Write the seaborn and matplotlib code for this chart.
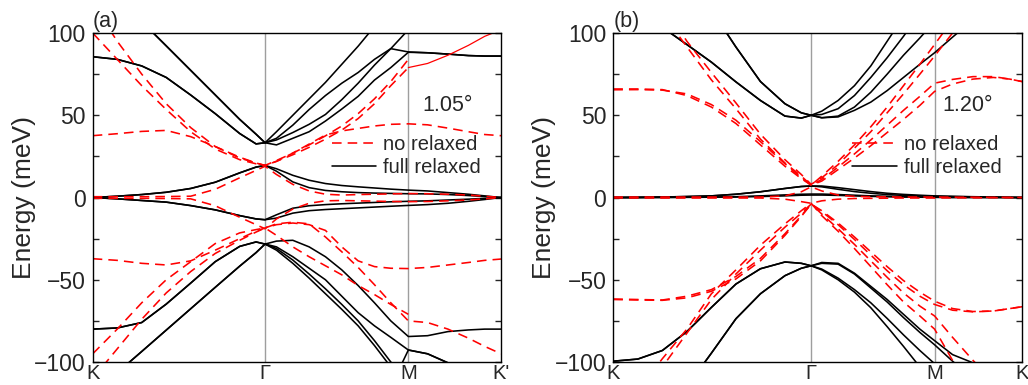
import numpy as np
import pandas as pd
import seaborn as sns
import matplotlib.pyplot as plt
from matplotlib.lines import Line2D
from matplotlib.ticker import MultipleLocator

nan = np.nan

# positions along the K-Gamma-M-K' path (fraction of path length)
k_a = [0, 0.06, 0.12, 0.18, 0.24, 0.30, 0.36, 0.40, 0.422,
       0.45, 0.49, 0.53, 0.57, 0.61, 0.65, 0.69, 0.73, 0.773,
       0.82, 0.87, 0.92, 0.96, 1.0]
k_b = [0, 0.06, 0.12, 0.18, 0.24, 0.30, 0.36, 0.42, 0.46, 0.484,
       0.51, 0.55, 0.59, 0.63, 0.67, 0.71, 0.75, 0.786,
       0.83, 0.88, 0.93, 0.97, 1.0]
ticks_a = [0, 0.422, 0.773, 1.0]
ticks_b = [0, 0.484, 0.786, 1.0]
tick_labels_a = ['K', 'Γ', 'M', "K'"]
tick_labels_b = ['K', 'Γ', 'M', 'K']

# (a) 1.05 deg, full relaxed (meV)
a_full_1 = [85.6, 84, 80, 73, 62.3, 51, 38.9, 32.6, 33.3, 32, 36, 40, 46.5, 53.8, 61.5, 71.4, 79, 88.3, 88, 87.2, 86.3, 86, 86]
a_full_2 = [85.6, 84, 80, 73, 62.3, 51, 38.9, 32.6, 33.3, 36, 44, 53.5, 62, 69.5, 76, 84, 90.5, 88.5, 88, 87.2, 86.3, 86, 86]
a_full_3 = [137, 122, 107, 92.2, 77.3, 62.4, 47.5, 38.5, 33.3, 35, 39.5, 44.5, 50.5, 59.5, 69.5, 80.5, 90.5, 102, 112, 118, 122, 124, 125]
a_full_4 = [137, 122, 107, 92.2, 77.3, 62.4, 47.5, 38.5, 33.3, 40, 50, 60, 70, 81, 92, 104, 116, 128, 135, 138, 140, 140, 140]
a_full_5 = [0, 0.8, 1.8, 3.2, 5.5, 9.3, 15, 18.5, 19.5, 17.5, 13.5, 10.5, 8.5, 7.3, 6.5, 5.8, 5.1, 4.5, 4, 3, 2, 1, 0]
a_full_6 = [0, 0.8, 1.8, 3.2, 5.5, 9.3, 15, 18.5, 19.5, 16, 9.5, 6, 4.3, 3.5, 3, 2.7, 2.5, 2.3, 2.2, 1.8, 1.2, 0.6, 0]
a_full_7 = [0, -0.8, -1.8, -2.8, -4.9, -7.5, -11, -13, -13.5, -10.5, -6.5, -5, -4.3, -3.8, -3.4, -3, -2.6, -2.3, -2, -1.5, -1, -0.5, 0]
a_full_8 = [0, -0.8, -1.8, -2.8, -4.9, -7.5, -11, -13, -13.5, -12.5, -9.5, -8, -7.3, -6.8, -6.3, -5.8, -5.3, -4.8, -4.3, -3.5, -2.3, -1.2, 0]
a_full_9 = [-80, -79.3, -76, -64.8, -52, -39, -29.7, -27, -28.3, -26.5, -26, -30, -36, -44, -53.5, -64, -75, -84.5, -84, -81.5, -80.5, -80, -80]
a_full_10 = [-80, -79.3, -76, -64.8, -52, -39, -29.7, -27, -28.3, -30, -36, -43, -50, -60, -70, -78, -85, -92.7, -95, -100.5, -106, -110, -113]
a_full_11 = [-120, -106.5, -93.6, -80.6, -67.6, -54.6, -41.7, -33.5, -28.3, -31, -38, -46.5, -55.5, -65, -75, -87, -100, -110, -115, -118, -120, -120, -120]
a_full_12 = [-120, -106.5, -93.6, -80.6, -67.6, -54.6, -41.7, -33.5, -28.3, -32, -40, -49, -58.5, -68, -78, -90, -103, -113, -118, -121, -123, -124, -125]
a_full_13 = [-140, -140, -140, -140, -140, -140, -140, -140, -140, -140, -140, -140, -140, -140, -140, -135, -115, -92.7, -95, -100.5, -106, -110, -113]

# (a) 1.05 deg, no relaxed (meV)
a_no_1 = [100, 84, 68, 53.5, 40, 29.5, 23, 20.5, 19.5, 22.5, 27, 32, 37.5, 43.5, 51, 60, 70.5, 84, nan, nan, nan, nan, nan]
a_no_2 = [118, 95, 75, 57, 42.5, 31, 24.5, 21, 19.5, 22, 26, 30.5, 35.5, 41, 48, 57, 68, 79, nan, nan, nan, nan, nan]
a_no_3 = [37.6, 38.8, 40.2, 40.8, 37, 31, 24, 21, 19.5, 22, 27, 32.5, 38, 40.5, 42, 43.5, 44.5, 44.8, 44.2, 42.2, 40, 38.3, 37.6]
a_no_4 = [0.5, 0.5, 0.5, 0.6, 0.8, 5, 12, 16.5, 19, 14, 8, 4, 2, 1.5, 1.8, 2, 2.2, 2.4, 2.3, 2, 1.5, 0.8, 0]
a_no_5 = [-95, -80, -64, -50, -39, -28, -21.5, -19.5, -18.5, -16, -15, -16, -24, -33, -42.5, -53, -64, -75, -76, -80, -85.5, -90.5, -95]
a_no_6 = [-110, -92, -74, -58, -45, -34, -26, -21, -18.5, -23, -30, -36, -41.5, -47, -53.5, -59, -65, -71, nan, nan, nan, nan, nan]
a_no_7 = [-37.2, -38.2, -40, -41, -38.5, -32, -25, -20.5, -18.5, -16.5, -15.5, -16.5, -20, -30, -38.5, -42, -43, -43.2, -42.5, -41, -39.5, -38.2, -37.4]
a_no_8 = [-0.5, -0.5, -0.5, -0.6, -0.8, -5, -12, -16.5, -19, -13, -7, -3.5, -2, -1.8, -2, -2.2, -2.4, -2.5, -2.4, -2, -1.5, -0.8, 0]
a_no_solid_k = [0.773, 0.82, 0.87, 0.92, 0.96, 1.0]
a_no_solid = [79, 81.5, 86.5, 92.5, 98, 102]

# (b) 1.20 deg, full relaxed (meV)
b_full_1 = [124, 114, 103.5, 93, 82.3, 70.3, 59, 49.5, 48.3, 50, 48.5, 49, 53, 58, 65, 73, 81, 88, 97.5, 108, 118, 125, 130]
b_full_2 = [124, 114, 103.5, 93, 82.3, 70.3, 59, 49.5, 48.3, 50, 48.5, 49.5, 55, 64, 75, 86.5, 97, 107, 118, 128, 132, 134, 135]
b_full_3 = [204, 181, 159, 136.6, 114, 91.5, 70.5, 57, 51.5, 50, 50.5, 54, 62, 73, 85, 98, 112, 122, 130, 135, 135, 135, 135]
b_full_4 = [204, 181, 159, 136.6, 114, 91.5, 70.5, 57, 51.5, 50, 52.5, 59, 68, 80, 95, 110, 125, 135, 140, 140, 140, 140, 140]
b_full_5 = [0, 0.1, 0.3, 0.6, 1, 2, 3.5, 5.5, 6.7, 7, 7, 6, 4.8, 3.6, 2.6, 1.9, 1.4, 1, 0.7, 0.5, 0.3, 0.1, 0]
b_full_6 = [0, 0.1, 0.3, 0.6, 1, 2, 3.5, 5.5, 6.7, 7, 6.5, 5, 3.6, 2.6, 1.8, 1.3, 1, 0.8, 0.6, 0.4, 0.2, 0.1, 0]
b_full_7 = [0, 0, 0.1, 0.2, 0.3, 0.5, 1, 1.6, 2, 2.1, 2.1, 1.8, 1.4, 1, 0.7, 0.5, 0.3, 0.2, 0.1, 0.1, 0, 0, 0]
b_full_8 = [0, 0, 0, 0.1, 0.2, 0.3, 0.6, 1, 1.4, 1.5, 1.5, 1.3, 1, 0.7, 0.5, 0.3, 0.2, 0.1, 0, 0, 0, 0, 0]
b_full_9 = [-99.5, -98.2, -93, -81.5, -66.8, -52.6, -43.3, -39.2, -40, -41.5, -39.5, -40, -46, -54, -62, -71, -80, -87, -95.5, -100.5, -106, -110, -112]
b_full_10 = [-99.5, -98.2, -93, -81.5, -66.8, -52.6, -43.3, -39.2, -40, -41.5, -40, -40.5, -46.5, -55, -63.5, -73, -82, -89.5, -99.5, -110, -118, -122, -125]
b_full_11 = [-178, -157, -136, -115, -94.6, -73.7, -58.5, -47.5, -43, -41.5, -44, -50, -57.5, -67, -78.5, -90.5, -103, -115, -125, -130, -135, -138, -140]
b_full_12 = [-178, -157, -136, -115, -94.6, -73.7, -58.5, -47.5, -43, -41.5, -43.5, -49, -56, -64, -73.5, -83.5, -93, -101, -112, -120, -126, -130, -132]

# (b) 1.20 deg, no relaxed (meV)
b_no_1 = [152, 132, 112, 91.6, 71.5, 54, 35.5, 21, 13, 7.5, 13, 22, 32, 43, 55, 68, 81, 93, 108, 120, 130, 135, 140]
b_no_2 = [160, 140, 118, 95, 76, 57.5, 38.5, 23, 14, 8, 12, 20, 30, 40, 51.5, 63, 75, 86, 100, 112, 122, 128, 132]
b_no_3 = [65.5, 65.6, 65.3, 63, 56.5, 47, 34, 20.5, 12, 7.5, 11, 18.5, 26.5, 35, 44, 53, 61.5, 69.5, 71.8, 73.5, 73.5, 72, 70.5]
b_no_4 = [66, 66, 65.6, 62, 55, 45, 32, 19, 11.5, 7.5, 10, 17, 24, 31.5, 39.5, 47.5, 56, 64.5, 69, 72, 73, 72, 70.5]
b_no_5 = [0.3, 0.3, 0.3, 0.3, 0.3, 0.3, 0.3, 1, 3.5, 6.5, 4, 1.5, 0.7, 0.5, 0.4, 0.3, 0.3, 0.3, 0.2, 0.2, 0.1, 0.1, 0]
b_no_6 = [-137, -117, -98, -80, -58.5, -44, -29, -16, -8, -3.5, -11, -20.5, -31, -42, -53, -63.5, -72, -80, -99, -118, -130, -135, -140]
b_no_7 = [-150, -125, -103, -82.5, -62, -46.5, -32, -18, -9.5, -4, -10, -19, -28.5, -38.5, -48.5, -58, -66, -72, -85, -99, -112, -120, -125]
b_no_8 = [-61.7, -62, -62.3, -60, -56, -48, -37, -22, -11, -4, -8, -15.5, -24, -33, -42, -50.5, -57.5, -63, -67.5, -69.3, -69, -67.5, -66.4]
b_no_9 = [-62, -62.3, -62.5, -61, -57, -49.5, -38.5, -23, -11.5, -4, -8.5, -16.5, -25.5, -35, -44.5, -53, -60, -65, -68.5, -69.5, -69, -67.5, -66.4]
b_no_10 = [-0.3, -0.3, -0.3, -0.3, -0.3, -0.3, -0.3, -1, -2.5, -3.5, -2, -1, -0.6, -0.5, -0.4, -0.3, -0.3, -0.3, -0.2, -0.2, -0.1, -0.1, 0]

RED = '#ff0000'
DASH = (0, (6, 3.8))


def band_frame(k: list, bands: list) -> pd.DataFrame:
    parts = [pd.DataFrame({'k': k, 'E': e, 'band': i}) for i, e in enumerate(bands)]
    return pd.concat(parts, ignore_index=True)


def plot_panel(ax, k, full, no, ticks, labels, tag, angle, extra=None) -> None:
    for t in ticks[1:3]:
        ax.axvline(t, color='0.62', lw=1.0, zorder=0)

    sns.lineplot(data=band_frame(k, full), x='k', y='E', units='band',
                 estimator=None, sort=False, color='black', lw=1.15, ax=ax)
    sns.lineplot(data=band_frame(k, no), x='k', y='E', units='band',
                 estimator=None, sort=False, color=RED, lw=1.15,
                 linestyle=DASH, ax=ax)
    if extra is not None:
        sns.lineplot(x=extra[0], y=extra[1], color=RED, lw=0.9,
                     sort=False, ax=ax)

    ax.set_xlim(0, 1)
    ax.set_ylim(-100, 100)
    ax.set_xticks(ticks)
    ax.set_xticklabels(labels)
    ax.yaxis.set_major_locator(MultipleLocator(50))
    ax.yaxis.set_minor_locator(MultipleLocator(25))
    ax.tick_params(axis='y', which='both', direction='in', left=True,
                   right=True, length=4, width=1, labelsize=16.5, pad=5)
    ax.tick_params(axis='x', length=0, labelsize=14.5, pad=1.5)
    ax.set_xlabel('')
    ax.set_ylabel('Energy (meV)', fontsize=19)
    ax.yaxis.set_label_coords(-0.14, 0.5)
    for s in ax.spines.values():
        s.set_linewidth(1.0)
        s.set_color('black')

    ax.text(0.868, 56, angle, fontsize=15.5, ha='center', va='center')
    ax.text(0.0, 1.004, tag, fontsize=15.5, ha='left', va='bottom',
            transform=ax.transAxes)

    handles = [Line2D([], [], color=RED, lw=1.15, linestyle=DASH),
               Line2D([], [], color='black', lw=1.15)]
    ax.legend(handles, ['no relaxed', 'full relaxed'], frameon=False,
              loc='upper left', bbox_to_anchor=(0.585, 0.69),
              fontsize=14.5, handlelength=2.2, handletextpad=0.35,
              labelspacing=0.2, borderpad=0, borderaxespad=0)


if __name__ == '__main__':
    sns.set_style('ticks')
    plt.rcParams['font.family'] = ['Liberation Sans', 'DejaVu Sans']

    fig = plt.figure(figsize=(10.28, 3.85), dpi=100)
    ax_a = fig.add_axes([0.0902, 0.0597, 0.3972, 0.8545])
    ax_b = fig.add_axes([0.5966, 0.0597, 0.3976, 0.8545])

    full_a = [a_full_1, a_full_2, a_full_3, a_full_4, a_full_5, a_full_6, a_full_7,
              a_full_8, a_full_9, a_full_10, a_full_11, a_full_12, a_full_13]
    no_a = [a_no_1, a_no_2, a_no_3, a_no_4, a_no_5, a_no_6, a_no_7, a_no_8]
    full_b = [b_full_1, b_full_2, b_full_3, b_full_4, b_full_5, b_full_6,
              b_full_7, b_full_8, b_full_9, b_full_10, b_full_11, b_full_12]
    no_b = [b_no_1, b_no_2, b_no_3, b_no_4, b_no_5, b_no_6, b_no_7, b_no_8,
            b_no_9, b_no_10]

    plot_panel(ax_a, k_a, full_a, no_a, ticks_a, tick_labels_a, '(a)', '1.05°',
               extra=(a_no_solid_k, a_no_solid))
    plot_panel(ax_b, k_b, full_b, no_b, ticks_b, tick_labels_b, '(b)', '1.20°')

    fig.savefig('out.png', dpi=100)
    plt.close(fig)
